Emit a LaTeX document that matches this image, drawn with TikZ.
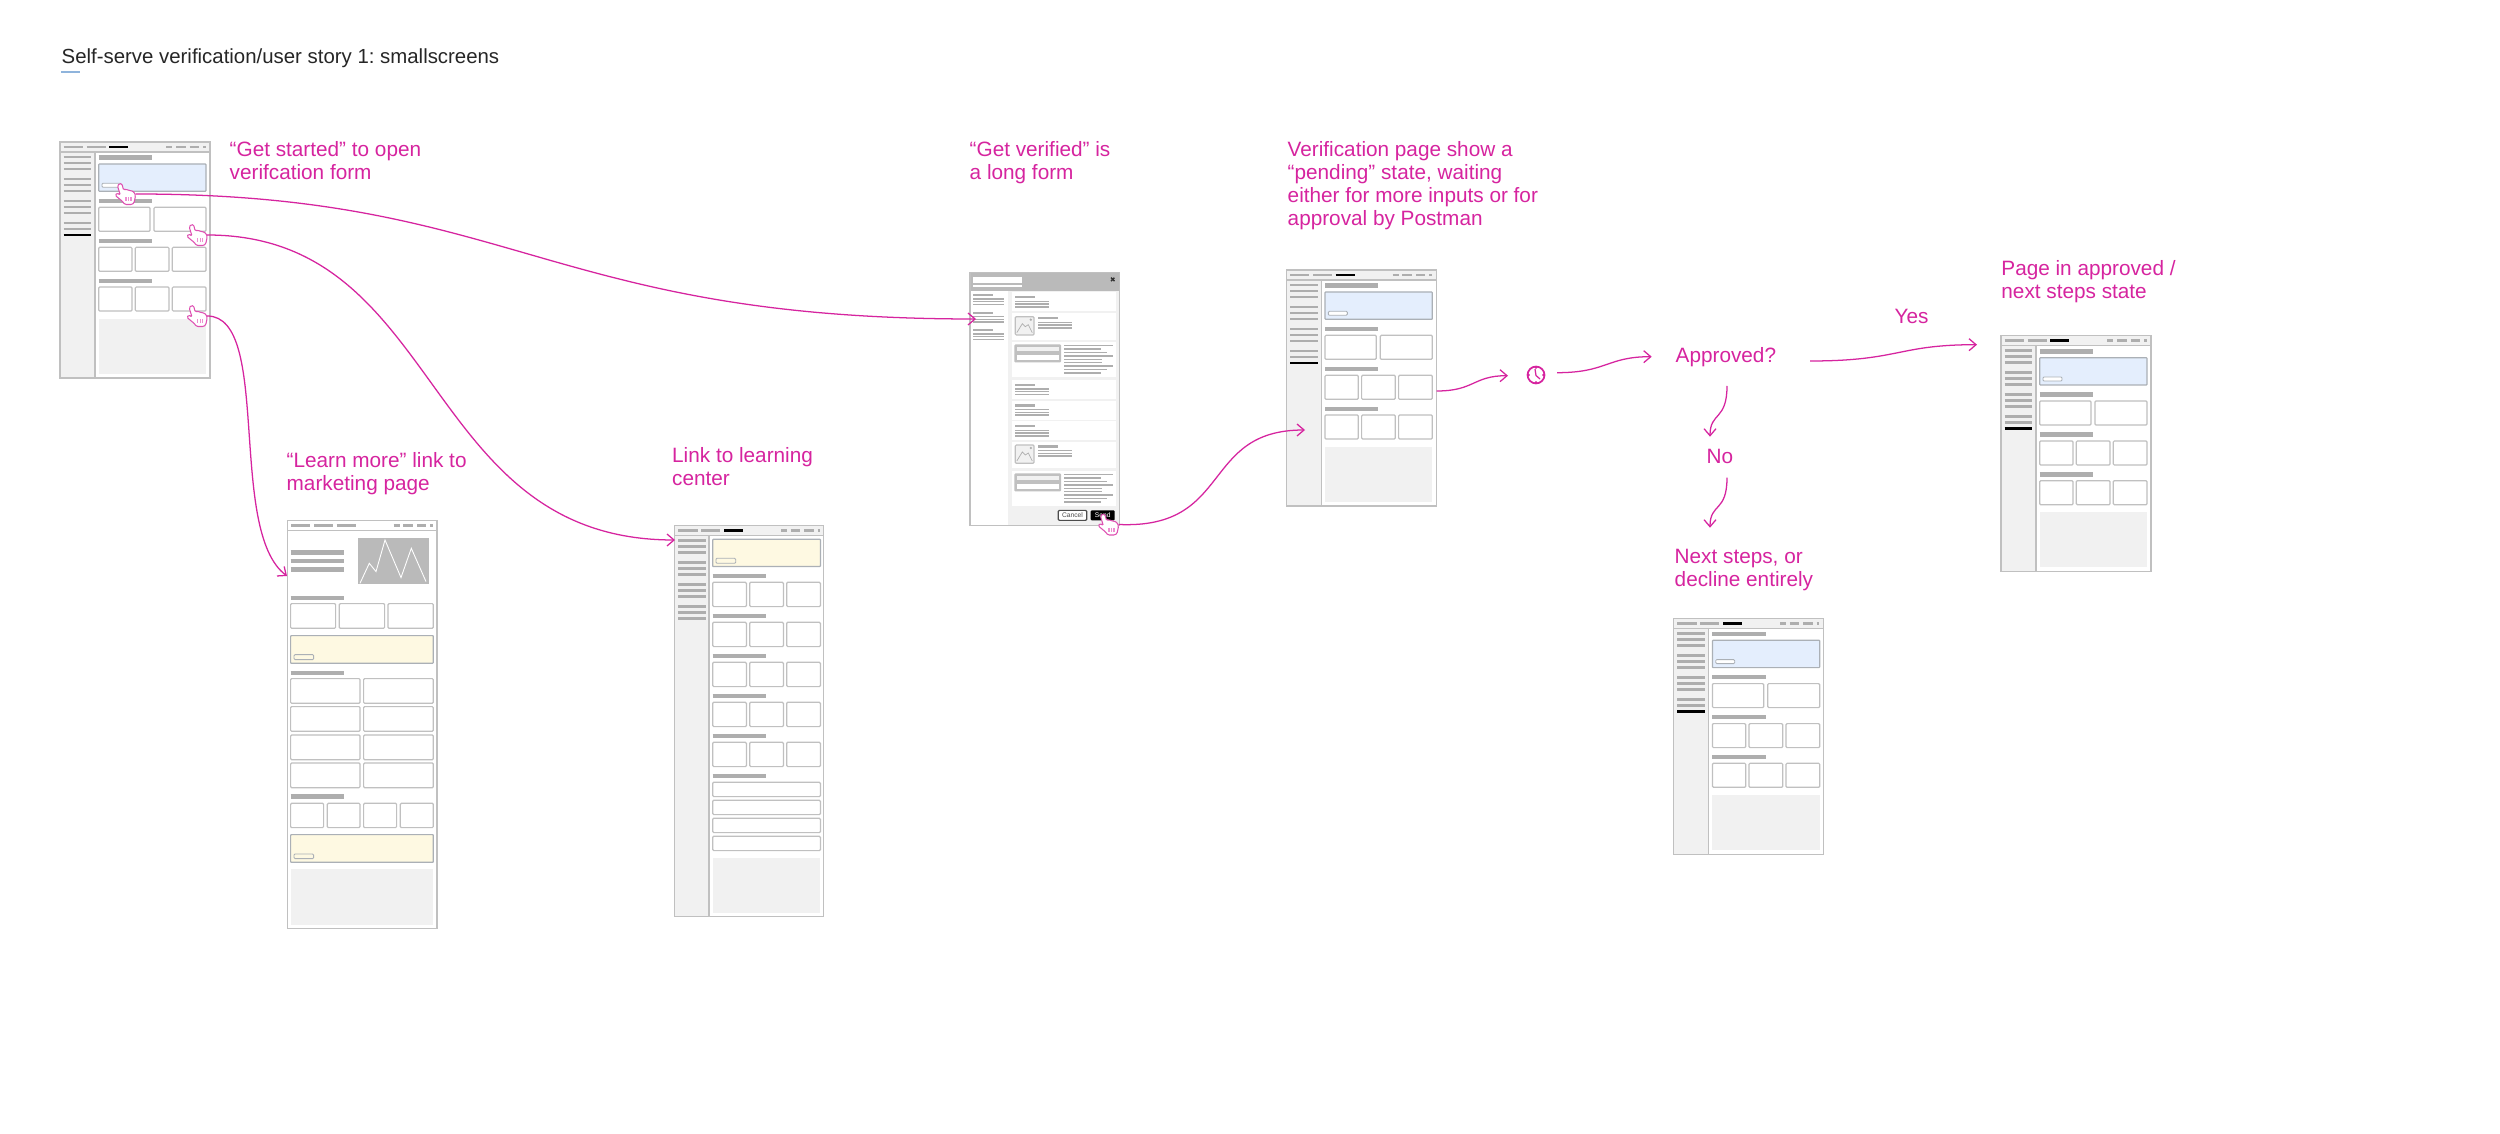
\documentclass[tikz,border=0pt]{standalone}
\usepackage{fontspec}
\setmainfont{Liberation Sans}
\usetikzlibrary{arrows.meta}

\definecolor{flowpink}{HTML}{D6249F}
\definecolor{handpink}{HTML}{EE8FD2}
\definecolor{wireline}{HTML}{C0C0C0}
\definecolor{barline}{HTML}{AEAEAE}
\definecolor{panelgrey}{HTML}{F1F1F1}
\definecolor{heroblue}{HTML}{E4EEFD}
\definecolor{heroyellow}{HTML}{FEF9E2}
\definecolor{heroedge}{HTML}{ABB0B6}
\definecolor{ruleblue}{HTML}{8FB4DC}

\tikzset{
    wireframe/.style={draw=wireline, line width=.42pt, fill=white},
    wirecard/.style={draw=wireline, line width=.34pt, fill=white, rounded corners=.3pt},
    wirehero/.style={draw=heroedge, line width=.34pt, rounded corners=.2pt},
    wirebutton/.style={draw=heroedge, line width=.25pt, rounded corners=.3pt},
    wirebar/.style={draw=barline, line width=.76pt},
    wiretitle/.style={draw=barline, line width=1.25pt},
    wiretext/.style={draw=barline, line width=.42pt},
    flow/.style={draw=flowpink, line width=.36pt, -{Straight Barb[length=2pt,width=3.4pt]}},
    flowtext/.style={text=flowpink, font=\fontsize{5.9}{6.54}\selectfont\frenchspacing, align=left, inner sep=0pt, anchor=base west},
}

% top bar of a screen
\newcommand{\wirehead}[1]{
    \foreach \xa/\xb in {3.7/23, 26.7/45.7} {
        \draw[wirebar] (\xa,5) -- (\xb,5);
    }
    \draw[wirebar,draw=#1] (49.3,5) -- (68.3,5);
    \foreach \xa/\xb in {106.3/112.3, 116/125.7, 129.7/139, 143/145.7} {
        \draw[wirebar] (\xa,5) -- (\xb,5);
    }
}
% side menu, last item in the given colour
\newcommand{\wireside}[1]{
    \foreach \y in {15,21,27,37,43,49,59,65,71,81,87} {
        \draw[wirebar] (3.7,\y) -- (31.3,\y);
    }
    \draw[wirebar,draw=#1] (3.7,93) -- (31.3,93);
}
\newcommand{\wirecols}[3]{ % top, height, list of columns
    \foreach \xa/\xb in {#3} {
        \draw[wirecard] (\xa,#1) rectangle (\xb,#1+#2);
    }
}
\newcommand{\wirepeak}[2]{
    \draw[wirecard, fill=panelgrey] (#1,#2) rectangle ++(18.7,18.3);
    \draw[draw=barline, line width=.2pt] (#1+1.5,#2+16) -- (#1+7,#2+7) -- (#1+10,#2+10) -- (#1+13,#2+8) -- (#1+17,#2+16);
    \fill[barline] (#1+15.5,#2+3) circle (1.3);
}
\newcommand{\formtext}[3]{ % x, y, width
    \draw[wirebar, line width=.65pt] (#1,#2+4.7) -- (#1+20,#2+4.7);
    \foreach \d in {9,11.7,14.4} {
        \draw[wiretext] (#1,#2+\d) -- (#1+#3,#2+\d);
    }
}
\newcommand{\formrow}[1]{
    \fill[white] (41.7,#1) rectangle (145.7,#1+19);
    \formtext{45}{#1}{34.3}
}
\newcommand{\formimage}[1]{
    \fill[white] (41.7,#1) rectangle (145.7,#1+26.7);
    \wirepeak{45.3}{#1+3.3}
    \formtext{68}{#1}{34}
}
\newcommand{\formfield}[1]{
    \fill[white] (41.7,#1) rectangle (145.7,#1+35.5);
    \fill[rounded corners=.3pt, fill=wireline] (44.3,#1+2.7) rectangle (91,#1+20.7);
    \fill[white] (47,#1+13.5) rectangle (89,#1+18.5);
    \fill[panelgrey] (47,#1+5.5) rectangle (89,#1+9.5);
    \foreach \d/\xb in {4/143,7.4/131,10.8/137,14.2/143,17.6/132,21/132,24.4/143,27.8/137,31.2/131} {
        \draw[wiretext] (94,#1+\d) -- (\xb,#1+\d);
    }
}

\tikzset{
    pics/dashscreen/.style={code={
        \draw[wireframe] (0,0) rectangle (150,236);
        \fill[panelgrey] (0,0) rectangle (150,10);
        \fill[panelgrey] (0,10) rectangle (35,236);
        \draw[wireframe, fill=none] (0,0) rectangle (150,236);
        \draw[wireframe] (0,10) -- (150,10);
        \draw[wireframe] (35,10) -- (35,236);
        \wirehead{black}
        \wireside{black}
        \foreach \y in {15.7,59,99,139} {
            \draw[wiretitle] (38.7,\y) -- (92,\y);
        }
        \draw[wirehero, fill=heroblue] (38.7,22) rectangle (146,49.3);
        \draw[wirebutton, fill=white] (42,41.3) rectangle (61,45.3);
        \wirecols{65.3}{24}{38.7/90, 94/146}
        \wirecols{105.3}{24}{38.7/72, 75.3/109, 112.3/146}
        \wirecols{145}{24}{38.7/72, 75.3/109, 112.3/146}
        \fill[panelgrey] (38.7,176.7) rectangle (146,231.7);
    }},
    pics/learnscreen/.style={code={
        \draw[wireframe] (0,0) rectangle (149,391);
        \fill[panelgrey] (0,0) rectangle (149,10);
        \fill[panelgrey] (0,10) rectangle (34.5,391);
        \draw[wireframe, fill=none] (0,0) rectangle (149,391);
        \draw[wireframe] (0,10) -- (149,10);
        \draw[wireframe] (34.5,10) -- (34.5,391);
        \wirehead{black}
        \wireside{barline}
        \draw[wirehero, fill=heroyellow] (38,14) rectangle (145.7,41.3);
        \draw[wirebutton, fill=heroyellow] (41.3,33) rectangle (61,38);
        \foreach \y in {51,91,131,171,211} {
            \draw[wiretitle] (38,\y) -- (91.5,\y);
            \wirecols{\y+6}{24.3}{38/71.7, 75/108.7, 112/145.7}
        }
        \draw[wiretitle] (38,251) -- (91.5,251);
        \foreach \y in {257,275,293,311} {
            \wirecols{\y}{14.3}{38/145.7}
        }
        \fill[panelgrey] (38,332.3) rectangle (145.7,387.3);
    }},
    pics/marketscreen/.style={code={
        \draw[wireframe] (0,0) rectangle (149.5,408);
        \draw[wireframe] (0,10) -- (149.5,10);
        \wirehead{barline}
        \foreach \y in {32.3,41,49.3,77.7,152.7,276.3} {
            \draw[wiretitle] (3.3,\y) -- (57,\y);
        }
        \fill[barline!85] (70.7,17.3) rectangle (142,64);
        \draw[white, line width=.25pt] (72.7,63) -- (82,43) -- (88.7,51.3) -- (97.7,19.7) -- (113.7,57.3) -- (124,28) -- (138.7,61.3);
        \wirecols{83.3}{24.7}{3.3/48.3, 52/97.3, 100.7/146}
        \draw[wirehero, fill=heroyellow] (3.3,115.3) rectangle (146,143);
        \draw[wirebutton, fill=heroyellow] (6.7,134.3) rectangle (26.3,139.3);
        \foreach \y in {158.3,186.3,214.7,242.7} {
            \wirecols{\y}{24.7}{3.3/72.7, 76.3/146}
        }
        \wirecols{283}{24.3}{3.3/36.3, 40/72.7, 76.3/109.3, 113/146}
        \draw[wirehero, fill=heroyellow] (3.3,314.3) rectangle (146,342);
        \draw[wirebutton, fill=heroyellow] (6.7,333.7) rectangle (26.3,338.3);
        \fill[panelgrey] (3.3,349) rectangle (146,404.3);
    }},
    pics/modalscreen/.style={code={
        \draw[wireframe] (0,0) rectangle (149.5,253);
        \fill[panelgrey] (38.3,18.7) rectangle (149.5,253);
        \fill[barline!85] (0,0) rectangle (149.5,18.7);
        \fill[white] (3.3,4) rectangle (51.7,10.7);
        \fill[white] (3.3,12.5) rectangle (51.7,14.7);
        \draw[black!80, line width=.4pt] (141,5) -- (144.4,8.4) (144.4,5) -- (141,8.4);
        \foreach \y in {22.3,40,57.3} {
            \draw[wirebar, line width=.65pt] (3.3,\y) -- (23.3,\y);
            \foreach \d in {4,6.7,9.4} {
                \draw[wiretext] (3.3,\y+\d) -- (34.3,\y+\d);
            }
        }
        \formrow{19.7}
        \formimage{40.7}
        \formfield{69}
        \formrow{107.3}
        \formrow{128}
        \formrow{148.7}
        \formimage{169}
        \formfield{198}
        \draw[wirecard, draw=black!70] (88.3,237.7) rectangle (116.7,247.7);
        \node[font=\fontsize{1.9}{2}\selectfont, text=black!70, inner sep=0pt] (-cancel) at (102.5,242.7) {Cancel};
        \fill[black, rounded corners=.3pt] (120.7,237.7) rectangle (144.7,247.7);
        \node[font=\fontsize{1.9}{2}\selectfont, text=white, inner sep=0pt] (-send) at (132.7,242.7) {Send};
        \draw[wireframe, fill=none] (0,0) rectangle (149.5,253);
    }},
    pics/clickhand/.style={code={
        \draw[flowpink!80, line width=.3pt, fill=white, rounded corners=.35pt]
            (4.5,.5) -- (7,1) -- (8.5,7) -- (11,6) -- (13.5,7.5) -- (16,7.5) -- (19.5,9.5) -- (20.5,13)
            -- (19,20) -- (17,21.5) -- (10,21.5) -- (7,18) -- (.3,12.5) -- (2,10) -- (5.3,12) -- (2.5,3) -- cycle;
        \foreach \x in {11,13.5,16} {
            \draw[handpink, line width=.3pt] (\x,14.5) -- (\x,18.5);
        }
        \coordinate (-tip) at (20.5,11);
    }},
}

\begin{document}
\begin{tikzpicture}[x=.01cm, y=-.01cm]
\path[use as bounding box, fill=white] (0,0) rectangle (2500,1134);

\node[anchor=base west, inner sep=0pt, text=black!85, font=\fontsize{5.8}{6.54}\selectfont\frenchspacing] (heading) at (61,64) {Self-serve verification/user story 1: smallscreens};
\draw[ruleblue, line width=.3pt] (61,72) -- (80,72);

% screens
\pic (start)    at (60,142)     {dashscreen};
\pic (market)   at (287.3,520.3) {marketscreen};
\pic (learn)    at (674.7,525.3) {learnscreen};
\pic (form)     at (970,272.7)  {modalscreen};
\pic (pending)  at (1286.3,270) {dashscreen};
\pic (done)     at (2001,335.7) {dashscreen};
\pic (decline)  at (1673.7,618.3) {dashscreen};

\pic (handstart)  at (115,183)    {clickhand};
\pic (handlearn)  at (186.7,224)  {clickhand};
\pic (handmarket) at (186.7,305)  {clickhand};
\pic (handsend)   at (1098,513.5) {clickhand};

% labels, placed by their last line
\node[flowtext] (getstarted) at (229,180) {“Get started” to open\\verifcation form};
\node[flowtext] (learnmore) at (286,491) {“Learn more” link to\\marketing page};
\node[flowtext] (linklearn) at (671.5,486) {Link to learning\\center};
\node[flowtext] (getverified) at (969,180) {“Get verified” is\\a long form};
\node[flowtext] (pendingnote) at (1287,226) {Verification page show a\\“pending” state, waiting\\either for more inputs or for\\approval by Postman};
\node[flowtext] (approved) at (1675,363) {Approved?};
\node[flowtext] (yes) at (1894,324) {Yes};
\node[flowtext] (no) at (1706,463.7) {No};
\node[flowtext] (nextsteps) at (1674,587) {Next steps, or\\decline entirely};
\node[flowtext] (approvednote) at (2000.7,299) {Page in approved /\\next steps state};

\node[circle, draw=flowpink, line width=.5pt, minimum size=4.8pt, inner sep=0pt] (waiting) at (1536,375) {};
\foreach \a in {0,90,180,270} {
    \draw[flowpink, line width=.35pt] (waiting.\a) -- (waiting.center);
}
\fill[white] (waiting.center) circle (6.5);
\draw[flowpink, line width=.35pt] (1535,369) -- (1536,375.5) -- (1540,379);

\coordinate (formin) at (976,319);
\coordinate (learnin) at (675,540);
\coordinate (marketin) at (287,576);
\coordinate (pendingin) at (1305,430);
\coordinate (pendingout) at (1436.7,391);
\coordinate (clockin) at (1508,375.7);
\coordinate (clockout) at (1557,372.7);
\coordinate (approvedin) at (1651.7,356.7);
\coordinate (approvedout) at (1810,361);
\coordinate (donein) at (1977,344.7);
\coordinate (noin) at (1710,436.7);
\coordinate (noout) at (1727,386);
\coordinate (nextin) at (1710,527.7);
\coordinate (nextout) at (1727,477.7);

% flow
\draw[flow] (handstart-tip) .. controls +(380,0) and +(-430,0) .. (formin);
\draw[flow] (handlearn-tip) .. controls +(238,0) and +(-255,0) .. (learnin);
\draw[flow] (handmarket-tip) .. controls +(65,0) and +(-60,-45) .. (marketin);
\draw[flow] (handsend-tip) .. controls +(115,5) and +(-105,0) .. (pendingin);
\draw[flow] (pendingout) .. controls +(38,0) and +(-35,0) .. (clockin);
\draw[flow] (clockout) .. controls +(50,0) and +(-45,0) .. (approvedin);
\draw[flow] (approvedout) .. controls +(90,0) and +(-80,0) .. (donein);
\draw[flow] (noout) .. controls +(0,35) and +(0,-25) .. (noin);
\draw[flow] (nextout) .. controls +(0,35) and +(0,-25) .. (nextin);
\end{tikzpicture}
\end{document}
